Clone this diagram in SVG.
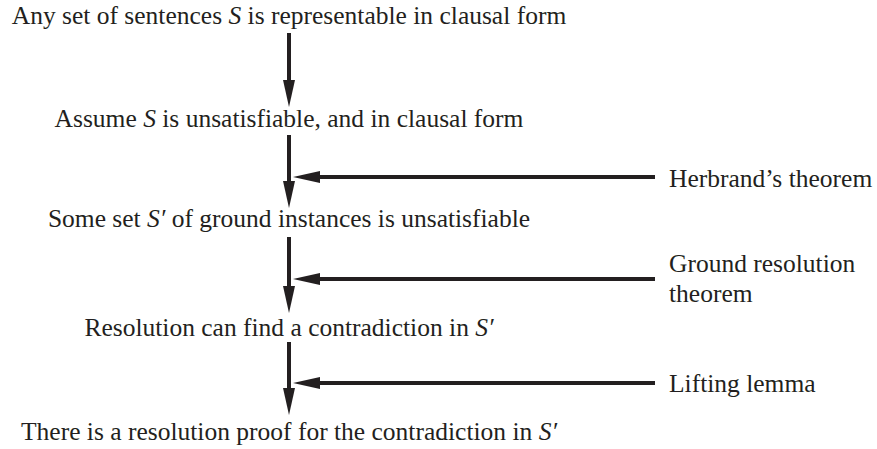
<svg xmlns="http://www.w3.org/2000/svg" width="877" height="449" viewBox="0 0 877 449">
<style>
.t { font-family: 'Liberation Serif', 'Times New Roman', 'DejaVu Serif', serif; font-size: 25.5px; fill: #231f20; }
.c { text-anchor: middle; }
.i { font-style: italic; }
.ln { stroke: #231f20; stroke-width: 4; fill: none; marker-end: url(#ah); }
</style>
<defs>
<marker id="ah" markerUnits="userSpaceOnUse" markerWidth="27" markerHeight="12" refX="0" refY="6" orient="auto" viewBox="0 0 27 12">
<path d="M0,0 L27,6 L0,12 z" fill="#231f20"/>
</marker>
</defs>
<g font-family="Liberation Serif, serif">
<g id="n1"><text class="t c" x="289" y="24">Any set of sentences <tspan class="i">S</tspan> is representable in clausal form</text></g>
<g id="n2"><text class="t c" x="289" y="127">Assume <tspan class="i">S</tspan> is unsatisfiable, and in clausal form</text></g>
<g id="n3"><text class="t c" x="289" y="227">Some set <tspan class="i">S′</tspan> of ground instances is unsatisfiable</text></g>
<g id="n4"><text class="t c" x="289" y="336">Resolution can find a contradiction in <tspan class="i">S′</tspan></text></g>
<g id="n5"><text class="t c" x="289" y="440">There is a resolution proof for the contradiction in <tspan class="i">S′</tspan></text></g>
<g id="l1"><text class="t" x="669" y="187">Herbrand’s theorem</text></g>
<g id="l2"><text class="t" x="669" y="272">Ground resolution</text><text class="t" x="669" y="302">theorem</text></g>
<g id="l3"><text class="t" x="669" y="392">Lifting lemma</text></g>
</g>
<g id="connectors">
<line class="ln" x1="289" y1="33" x2="289" y2="80"/>
<line class="ln" x1="289" y1="135" x2="289" y2="181"/>
<line class="ln" x1="289" y1="237" x2="289" y2="286"/>
<line class="ln" x1="289" y1="342" x2="289" y2="388"/>
<line class="ln" x1="655" y1="177" x2="320" y2="177"/>
<line class="ln" x1="655" y1="279" x2="320" y2="279"/>
<line class="ln" x1="655" y1="383" x2="320" y2="383"/>
</g>
</svg>
